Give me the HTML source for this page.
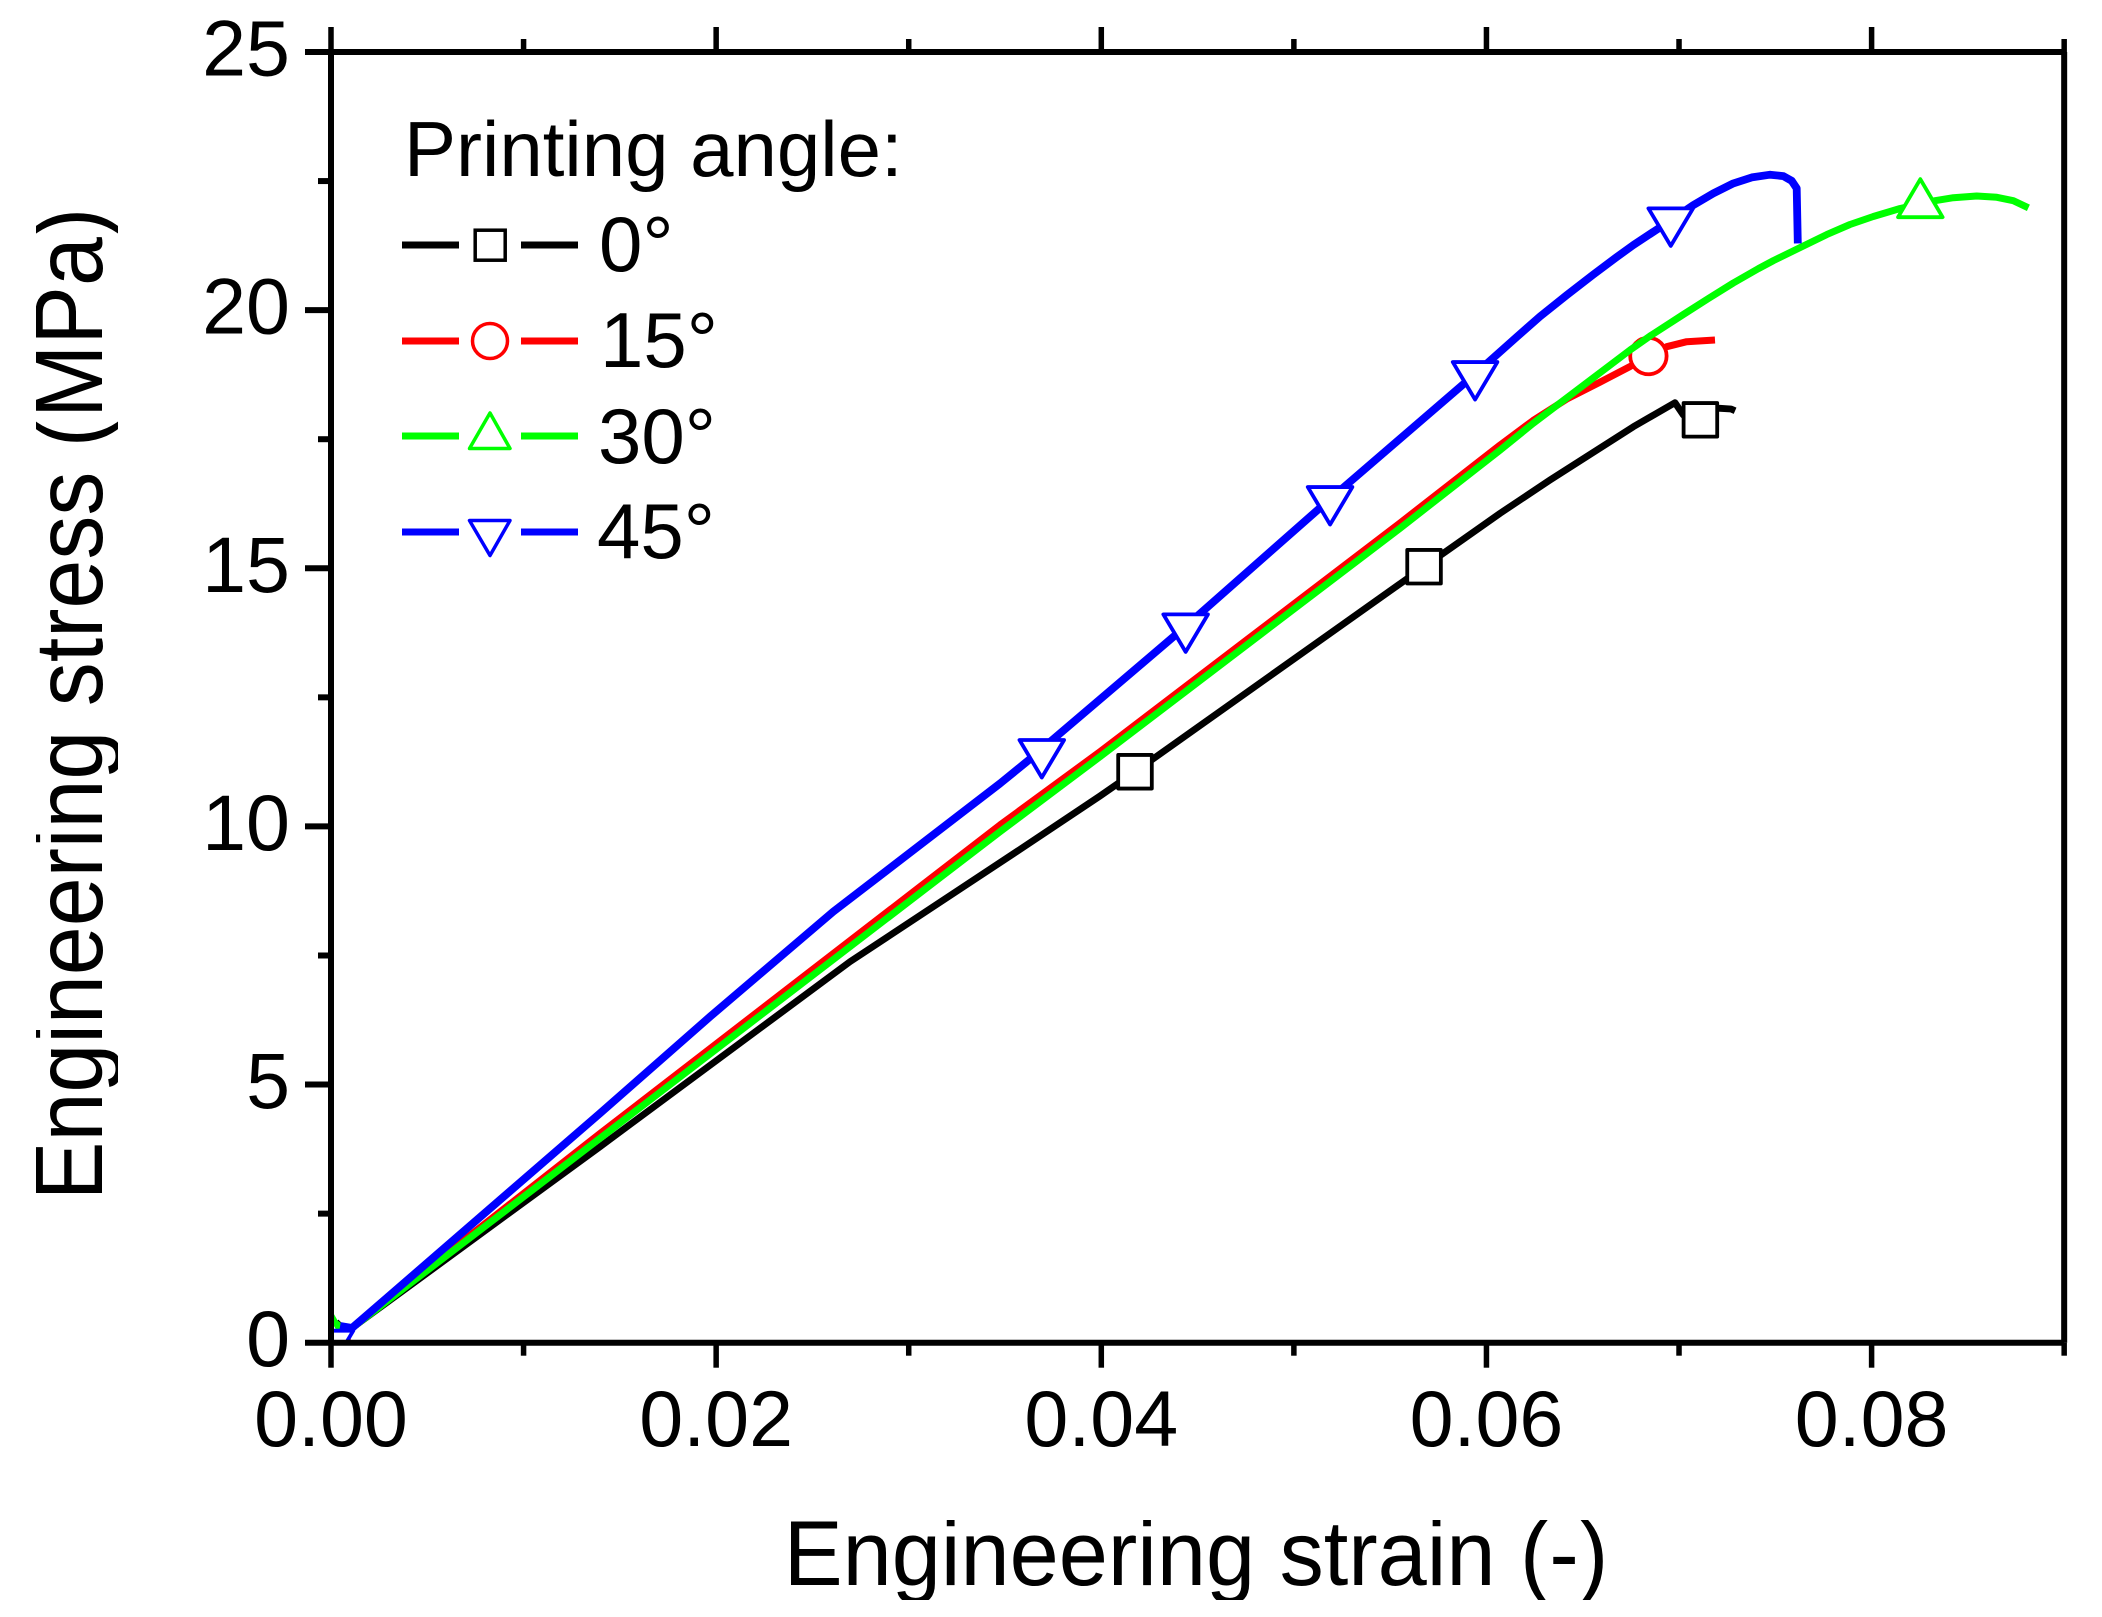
<!DOCTYPE html>
<html lang="en">
<head>
<meta charset="utf-8">
<title>Engineering stress vs strain</title>
<style>
html,body{margin:0;padding:0;background:#fff;}
svg{display:block;}
text{font-family:"Liberation Sans",Arial,sans-serif;fill:#000;}
</style>
</head>
<body>
<svg id="chart" xmlns="http://www.w3.org/2000/svg" width="2102" height="1617" viewBox="0 0 2102 1617">
  <defs>
    <clipPath id="plot-clip"><rect x="331" y="52" width="1734" height="1291"/></clipPath>
    <clipPath id="ytitle-clip"><rect x="36" y="150" width="82" height="1100"/></clipPath>
    <clipPath id="xtitle-clip"><rect x="700" y="1520" width="1000" height="80"/></clipPath>
  </defs>
  <rect x="0" y="0" width="2102" height="1617" fill="#fff"/>
  <g id="marks" clip-path="url(#plot-clip)"></g>
  <g id="axes"></g>

  <g clip-path="url(#ytitle-clip)">
    <text transform="translate(102,704) rotate(-90) scale(0.907,1)" text-anchor="middle" font-size="97">Engineering stress (MPa)</text>
  </g>
  <g clip-path="url(#xtitle-clip)">
    <text transform="translate(1196,1585) scale(0.96,1)" text-anchor="middle" font-size="92">Engineering strain (-)</text>
  </g>

  <g>
    <text x="404" y="176" font-size="78">Printing angle:</text>

    <g>
      <line x1="402" y1="245" x2="459" y2="245" stroke="#000" stroke-width="7"/>
      <line x1="521" y1="245" x2="578" y2="245" stroke="#000" stroke-width="7"/>
      <rect x="475.2" y="230.2" width="30" height="30" fill="#fff" stroke="#000" stroke-width="3.5"/>
      <text x="599" y="271" font-size="78">0°</text>
    </g>
    <g>
      <line x1="402" y1="341" x2="459" y2="341" stroke="#f00" stroke-width="7"/>
      <line x1="521" y1="341" x2="578" y2="341" stroke="#f00" stroke-width="7"/>
      <circle cx="490" cy="341" r="17.5" fill="#fff" stroke="#f00" stroke-width="3.5"/>
      <text x="600" y="367" font-size="78">15°</text>
    </g>
    <g>
      <line x1="402" y1="436" x2="459" y2="436" stroke="#0f0" stroke-width="7"/>
      <line x1="521" y1="436" x2="578" y2="436" stroke="#0f0" stroke-width="7"/>
      <polygon points="490,413 510,448.5 469.5,448.5" fill="#fff" stroke="#0f0" stroke-width="3.5" stroke-linejoin="round"/>
      <text x="598" y="463" font-size="78">30°</text>
    </g>
    <g>
      <line x1="402" y1="532" x2="459" y2="532" stroke="#00f" stroke-width="7"/>
      <line x1="521" y1="532" x2="578" y2="532" stroke="#00f" stroke-width="7"/>
      <polygon points="469.5,520.5 510,520.5 490,555.5" fill="#fff" stroke="#00f" stroke-width="3.5" stroke-linejoin="round"/>
      <text x="597" y="558" font-size="78">45°</text>
    </g>
  </g>
</svg>

<script>
const xMajorTicks = [0, 0.02, 0.04, 0.06, 0.08];
const xMinorTicks = [0.01, 0.03, 0.05, 0.07, 0.09];
const xTickLabels = ['0.00', '0.02', '0.04', '0.06', '0.08'];
const yMajorTicks = [0, 5, 10, 15, 20, 25];
const yMinorTicks = [2.5, 7.5, 12.5, 17.5, 22.5];
const yTickLabels = ['0', '5', '10', '15', '20', '25'];

const strain0 = [0.00026, 0.00047, 0.00109, 0.01397, 0.02695, 0.03561, 0.03993, 0.04175, 0.05676, 0.05776, 0.06071, 0.06330, 0.06763, 0.06979, 0.07022, 0.07111, 0.07171, 0.07213, 0.07270, 0.07291];
const stress0 = [0.40, 0.323, 0.285, 3.796, 7.380, 9.514, 10.589, 11.059, 15.030, 15.290, 16.064, 16.709, 17.742, 18.207, 17.968, 17.875, 18.085, 18.098, 18.085, 18.051];
const markerStrain0 = [0, 0.04175, 0.05676, 0.07111];
const markerStress0 = [0, 11.059, 15.030, 17.875];

const strain15 = [0.00047, 0.00109, 0.01397, 0.03474, 0.03993, 0.05551, 0.06071, 0.06242, 0.06417, 0.06590, 0.06746, 0.06841, 0.06936, 0.07040, 0.07187];
const stress15 = [0.323, 0.285, 4.052, 10.027, 11.447, 15.877, 17.388, 17.862, 18.278, 18.607, 18.908, 19.111, 19.291, 19.388, 19.421];
const markerStrain15 = [0, 0.06841];
const markerStress15 = [0, 19.111];

const strain30 = [0, 0.00021, 0.00057, 0.00109, 0.01397, 0.03474, 0.03993, 0.05551, 0.06071, 0.06243, 0.06746, 0.06849, 0.07022, 0.07152, 0.07282, 0.07412, 0.07490, 0.07628, 0.07767, 0.07888, 0.08009, 0.08148, 0.08329, 0.08424, 0.08546, 0.08650, 0.08736, 0.08814];
const stress30 = [0.517, 0.382, 0.285, 0.285, 3.959, 9.897, 11.350, 15.774, 17.290, 17.808, 19.227, 19.498, 19.915, 20.224, 20.525, 20.805, 20.960, 21.212, 21.464, 21.658, 21.813, 21.968, 22.119, 22.177, 22.210, 22.185, 22.119, 21.983];
const markerStrain30 = [0, 0.08253];
const markerStress30 = [0, 22.043];

const strain45 = [0.00047, 0.00109, 0.01397, 0.01968, 0.02608, 0.03474, 0.03613, 0.04438, 0.05188, 0.05941, 0.06157, 0.06278, 0.06417, 0.06555, 0.06676, 0.06763, 0.06957, 0.07074, 0.07178, 0.07282, 0.07378, 0.07473, 0.07542, 0.07585, 0.07611, 0.07617];
const stress45 = [0.323, 0.285, 4.443, 6.314, 8.348, 10.831, 11.253, 13.875, 16.341, 18.762, 19.479, 19.876, 20.292, 20.689, 21.028, 21.261, 21.739, 22.035, 22.262, 22.455, 22.572, 22.623, 22.597, 22.506, 22.359, 21.293];
const markerStrain45 = [0, 0.03691, 0.04438, 0.05188, 0.05941, 0.06957];
const markerStress45 = [0, 11.441, 13.875, 16.341, 18.762, 21.739];

const SVG_NS = 'http://www.w3.org/2000/svg';
const marksLayer = document.getElementById('marks');
const axesLayer = document.getElementById('axes');

function xScale(v) { return 331 + v * (1871.6 - 331) / 0.08; }
function yScale(v) { return 1342.7 - v * (1342.7 - 52) / 25; }

function make(tag, parent) {
  const el = document.createElementNS(SVG_NS, tag);
  parent.appendChild(el);
  return el;
}

function drawLine(parent, x1, y1, x2, y2, width, name) {
  const el = make('line', parent);
  
  
  el.setAttribute('x1', x1);
  el.setAttribute('y1', y1);
  el.setAttribute('x2', x2);
  el.setAttribute('y2', y2);
  el.setAttribute('stroke', '#000');
  el.setAttribute('stroke-width', width);
}

function drawSeries(xs, ys, color, width, name) {
  const el = make('polyline', marksLayer);
  
  
  el.setAttribute('points', xs.map((v, i) => xScale(v).toFixed(1) + ',' + yScale(ys[i]).toFixed(1)).join(' '));
  el.setAttribute('fill', 'none');
  el.setAttribute('stroke', color);
  el.setAttribute('stroke-width', width);
  el.setAttribute('stroke-linejoin', 'round');
}

function drawMarkers(xs, ys, kind, color, name) {
  xs.forEach((v, i) => {
    const cx = xScale(v);
    const cy = yScale(ys[i]);
    let el;
    if (kind === 'square') {
      el = make('rect', marksLayer);
      el.setAttribute('x', cx - 16.8);
      el.setAttribute('y', cy - 16.8);
      el.setAttribute('width', 33.6);
      el.setAttribute('height', 33.6);
    } else if (kind === 'circle') {
      el = make('circle', marksLayer);
      el.setAttribute('cx', cx);
      el.setAttribute('cy', cy);
      el.setAttribute('r', 18.2);
    } else if (kind === 'up') {
      el = make('polygon', marksLayer);
      el.setAttribute('points', cx + ',' + (cy - 25.5) + ' ' + (cx + 22.3) + ',' + (cy + 12.5) + ' ' + (cx - 22.3) + ',' + (cy + 12.5));
    } else {
      el = make('polygon', marksLayer);
      el.setAttribute('points', (cx - 22.3) + ',' + (cy - 12) + ' ' + (cx + 22.3) + ',' + (cy - 12) + ' ' + cx + ',' + (cy + 25.5));
    }
    
    
    el.setAttribute('fill', '#fff');
    el.setAttribute('stroke', color);
    el.setAttribute('stroke-width', 3.8);
    el.setAttribute('stroke-linejoin', 'round');
  });
}

drawSeries(strain0, stress0, '#000', 6.8, 'series-line-0deg');
drawMarkers(markerStrain0, markerStress0, 'square', '#000', 'series-marker-0deg');
drawSeries(strain15, stress15, '#f00', 7, 'series-line-15deg');
drawMarkers(markerStrain15, markerStress15, 'circle', '#f00', 'series-marker-15deg');
drawSeries(strain30, stress30, '#0f0', 7, 'series-line-30deg');
drawMarkers(markerStrain30, markerStress30, 'up', '#0f0', 'series-marker-30deg');
drawSeries(strain45, stress45, '#00f', 7.8, 'series-line-45deg');
drawMarkers(markerStrain45, markerStress45, 'down', '#00f', 'series-marker-45deg');

const xL = xScale(0);
const xR = xScale(0.09);
const yB = yScale(0);
const yT = yScale(25);

drawLine(axesLayer, xL, yT, xR, yT, 6, 'top-axis-line');
drawLine(axesLayer, xL, yB, xR, yB, 6, 'bottom-axis-line');
drawLine(axesLayer, xL, yT, xL, yB, 6, 'left-axis-line');
drawLine(axesLayer, xR, yT, xR, yB, 6, 'right-axis-line');

xMajorTicks.forEach((v, i) => {
  const x = xScale(v);
  drawLine(axesLayer, x, yB, x, yB + 25, 5.5, 'x-major-tick');
  drawLine(axesLayer, x, yT, x, yT - 25, 5.5, 'x-top-major-tick');
  const label = make('text', axesLayer);
  
  
  label.setAttribute('x', x);
  label.setAttribute('y', 1446);
  label.setAttribute('text-anchor', 'middle');
  label.setAttribute('font-size', '79');
  label.textContent = xTickLabels[i];
});
xMinorTicks.forEach((v) => {
  const x = xScale(v);
  drawLine(axesLayer, x, yB, x, yB + 13, 5.5, 'x-minor-tick');
  drawLine(axesLayer, x, yT, x, yT - 13, 5.5, 'x-top-minor-tick');
});
yMajorTicks.forEach((v, i) => {
  const y = yScale(v);
  drawLine(axesLayer, xL, y, xL - 26, y, 6, 'y-major-tick');
  const label = make('text', axesLayer);
  
  
  label.setAttribute('x', 290);
  label.setAttribute('y', y + 23.5);
  label.setAttribute('text-anchor', 'end');
  label.setAttribute('font-size', '79');
  label.textContent = yTickLabels[i];
});
yMinorTicks.forEach((v) => {
  const y = yScale(v);
  drawLine(axesLayer, xL, y, xL - 13, y, 6, 'y-minor-tick');
});
</script>
</body>
</html>
